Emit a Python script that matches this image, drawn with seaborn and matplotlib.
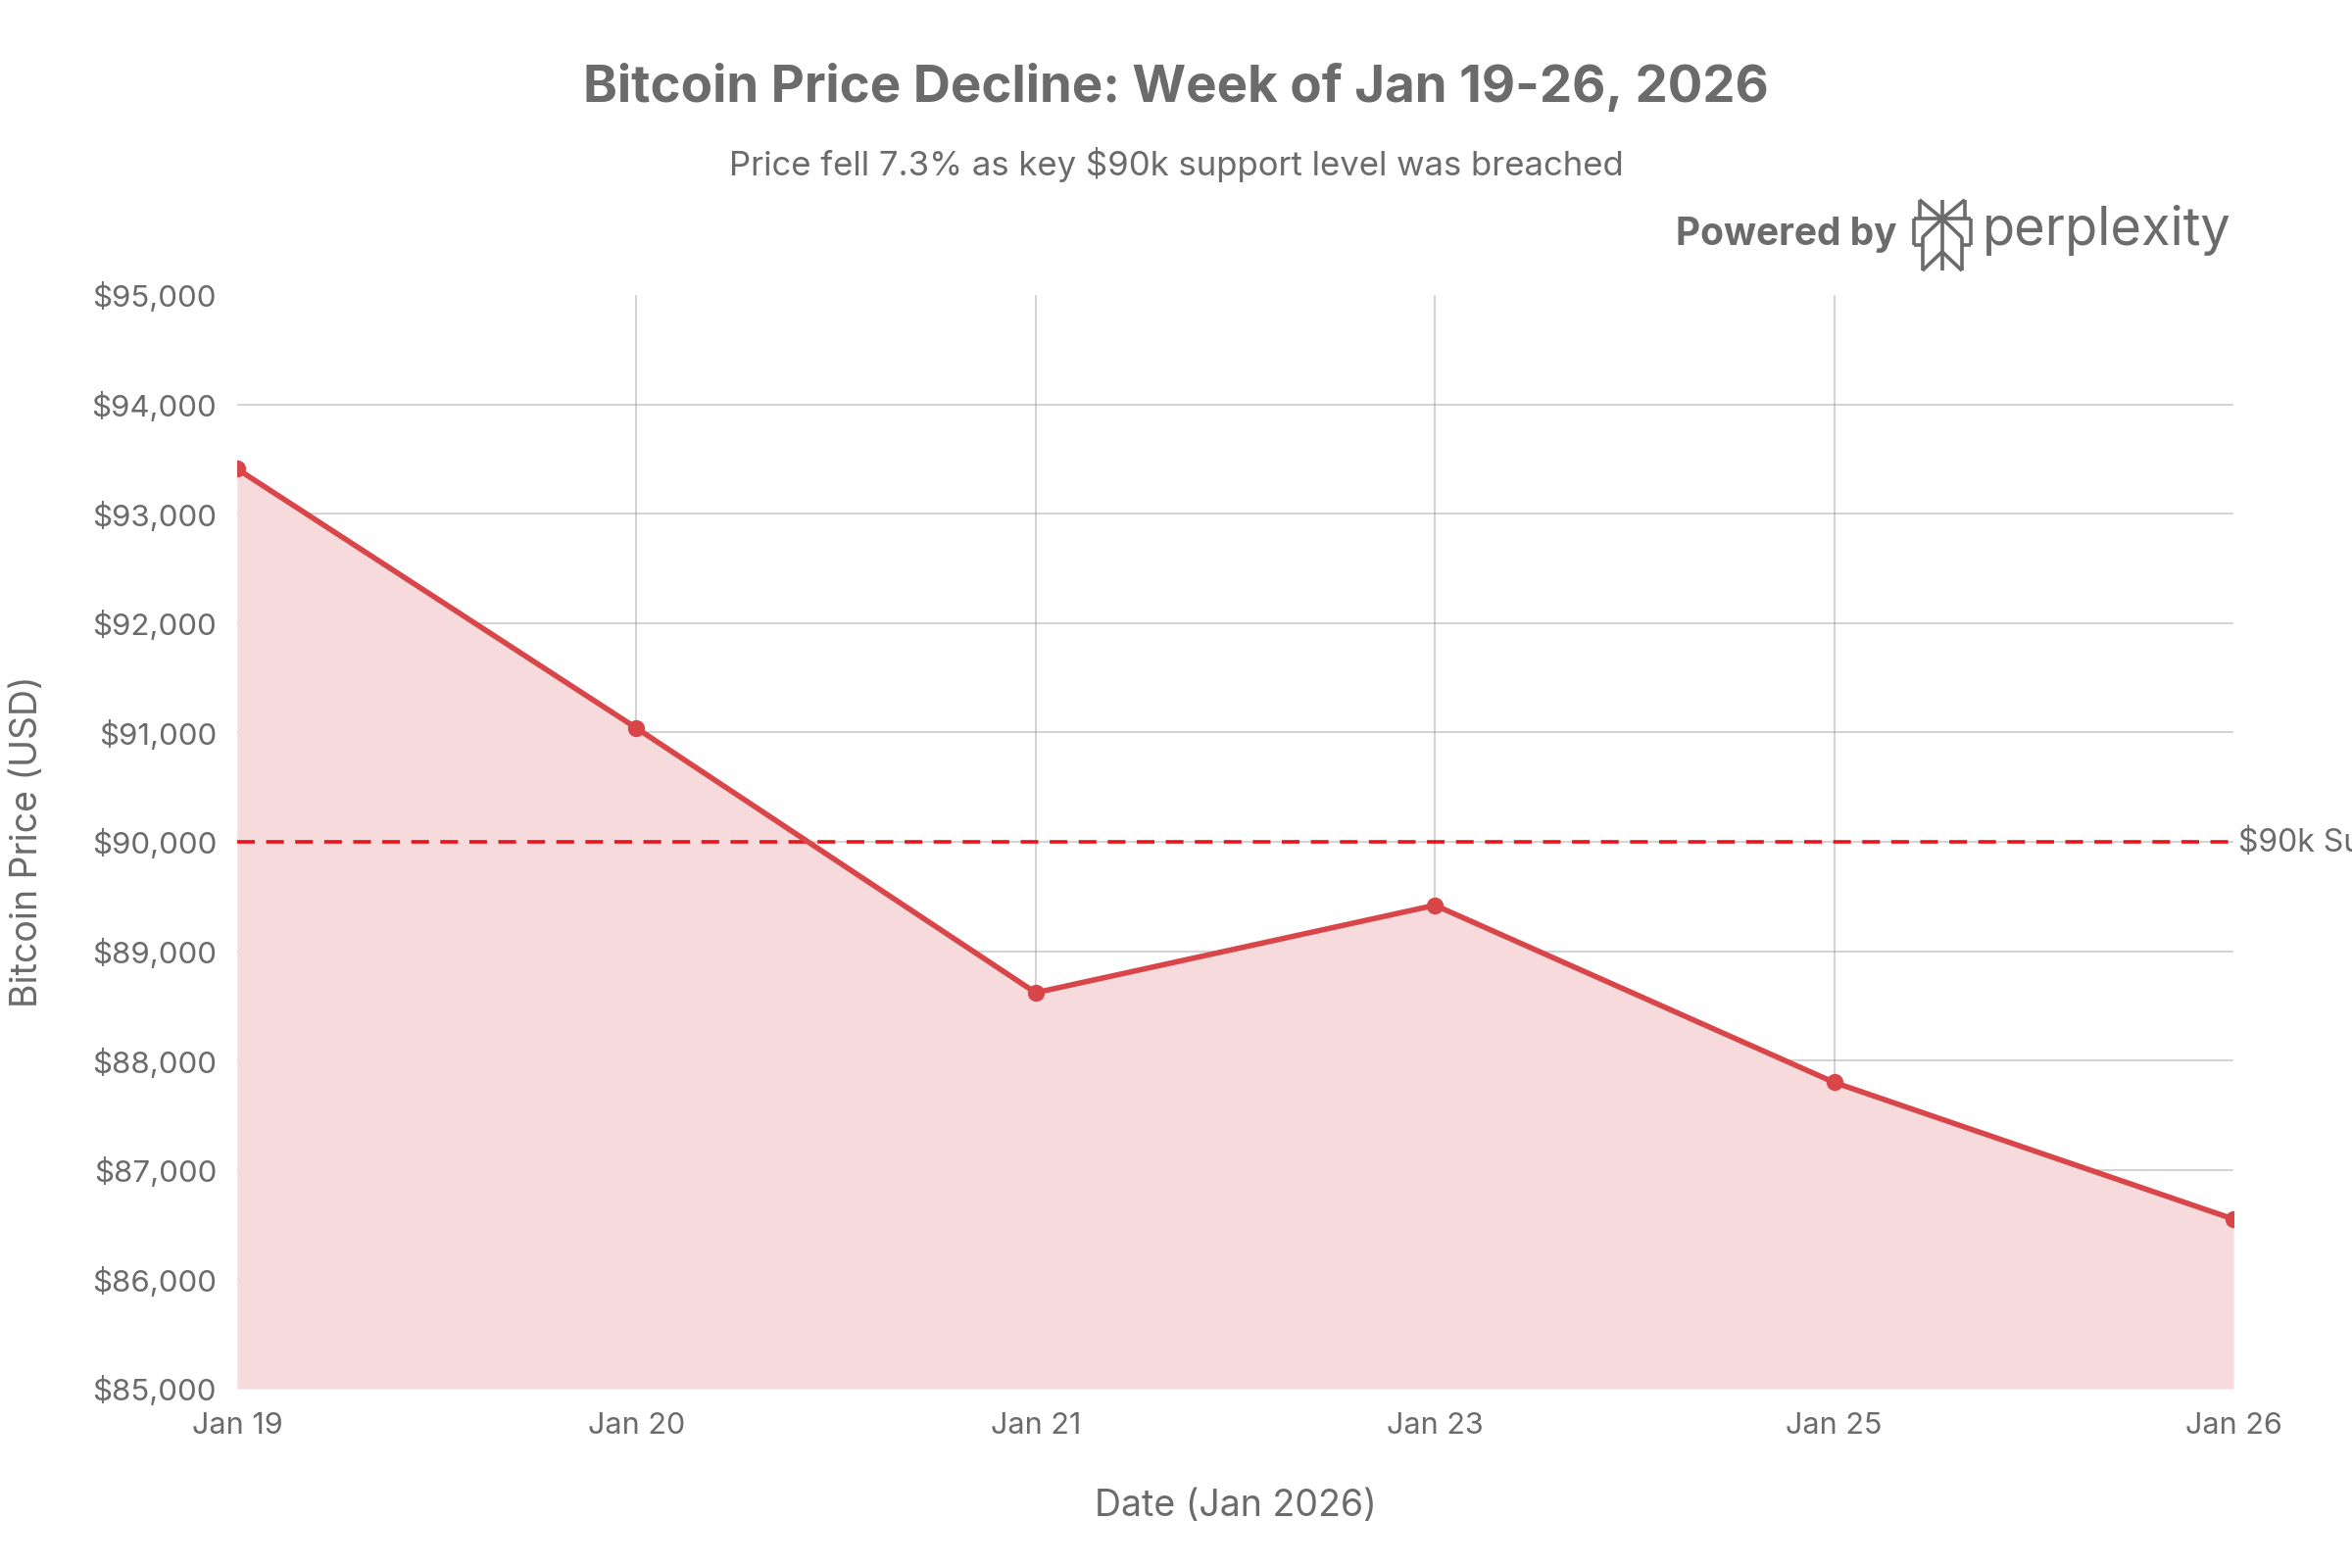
#!/usr/bin/env python3
"""Bitcoin price decline chart, week of Jan 19-26 2026."""
import numpy as np
import matplotlib
matplotlib.use('Agg')
import matplotlib.pyplot as plt
from matplotlib.ticker import FuncFormatter
import seaborn as sns
import pandas as pd

# data
dates = ['Jan 19', 'Jan 20', 'Jan 21', 'Jan 23', 'Jan 25', 'Jan 26']
prices = [93410, 91040, 88620, 89420, 87800, 86550]
support_level = 90000
y_ticks = [85000, 86000, 87000, 88000, 89000, 90000, 91000, 92000, 93000, 94000, 95000]

TEXT = '#6b6b6b'
LINE = '#d9464a'
FILL = '#f7dadb'
SUPPORT = '#e8141c'

sns.set_theme(style='white')
plt.rcParams['font.family'] = ['Inter', 'DejaVu Sans']
plt.rcParams['text.color'] = TEXT
plt.rcParams['axes.labelcolor'] = TEXT
plt.rcParams['xtick.color'] = TEXT
plt.rcParams['ytick.color'] = TEXT

df = pd.DataFrame({'pos': np.arange(len(dates)), 'date': dates, 'price': prices})

fig = plt.figure(figsize=(24, 16), dpi=100)
ax = fig.add_axes([0.1008, 0.1144, 0.8488, 0.6975])

ax.fill_between(df['pos'], df['price'], y_ticks[0], color=FILL, lw=0, zorder=1)
sns.lineplot(data=df, x='pos', y='price', ax=ax, color=LINE, lw=4,
             marker='o', markersize=12.5, markeredgewidth=0, zorder=4)
ax.axhline(support_level, color=SUPPORT, lw=2.6, ls=(0, (5, 3.2)), zorder=3)
ax.text(len(dates) - 1 + 0.012, support_level, '$90k Support', va='center',
        ha='left', fontsize=23, color=TEXT, clip_on=False)

ax.set_xlim(0, len(dates) - 1)
ax.set_ylim(y_ticks[0], y_ticks[-1])
ax.set_xticks(df['pos'])
ax.set_xticklabels(dates)
ax.set_yticks(y_ticks)
ax.yaxis.set_major_formatter(FuncFormatter(lambda v, p: f'${v:,.0f}'))
ax.tick_params(axis='both', labelsize=22.5, length=9, width=1.3, color='#cccccc', pad=6)
ax.tick_params(axis='x', labelsize=22, pad=8)
ax.grid(True, color='#9e9e9e', alpha=0.45, lw=1.4)
for sp in ax.spines.values():
    sp.set_visible(False)
xg = ax.get_xgridlines()
yg = ax.get_ygridlines()
for gl in xg + yg:
    gl.set_zorder(2)
# no grid on the plot edges
for gl in [xg[0], xg[-1], yg[0], yg[-1]]:
    gl.set_visible(False)

ax.set_xlabel('Date (Jan 2026)', fontsize=27, labelpad=36)
ax.set_ylabel('Bitcoin Price (USD)', fontsize=27)
ax.yaxis.set_label_coords(-0.096, 0.5)

fig.text(0.5, 0.944, 'Bitcoin Price Decline: Week of Jan 19-26, 2026', ha='center',
         va='center', fontsize=38, fontweight='bold', color=TEXT)
fig.text(0.5, 0.895, 'Price fell 7.3% as key $90k support level was breached', ha='center',
         va='center', fontsize=25, color=TEXT)

# "Powered by perplexity" badge
fig.text(0.8065, 0.850, 'Powered by', ha='right', va='center', fontsize=28,
         fontweight='bold', color=TEXT)
fig.text(0.9485, 0.853, 'perplexity', ha='right', va='center', fontsize=39, color=TEXT)
logo = fig.add_axes([0.8125, 0.8265, 0.0265, 0.047])
logo.set_xlim(-0.05, 1.05)
logo.set_ylim(-0.03, 1.53)
logo.axis('off')
segs = [
    [(0.5, 0.0), (0.5, 1.5)],
    [(0.1, 1.5), (0.5, 1.1)], [(0.9, 1.5), (0.5, 1.1)],
    [(0.1, 1.5), (0.1, 1.1)], [(0.9, 1.5), (0.9, 1.1)],
    [(0.0, 1.1), (1.0, 1.1)],
    [(0.0, 1.1), (0.0, 0.55)], [(1.0, 1.1), (1.0, 0.55)],
    [(0.0, 0.55), (0.15, 0.55)], [(1.0, 0.55), (0.85, 0.55)],
    [(0.5, 1.1), (0.15, 0.7)], [(0.5, 1.1), (0.85, 0.7)],
    [(0.15, 0.7), (0.15, 0.0)], [(0.85, 0.7), (0.85, 0.0)],
    [(0.15, 0.0), (0.5, 0.4)], [(0.85, 0.0), (0.5, 0.4)],
]
for s in segs:
    logo.plot([s[0][0], s[1][0]], [s[0][1], s[1][1]], color=TEXT, lw=2.6,
              solid_capstyle='butt')

fig.savefig('out.png', dpi=100)
